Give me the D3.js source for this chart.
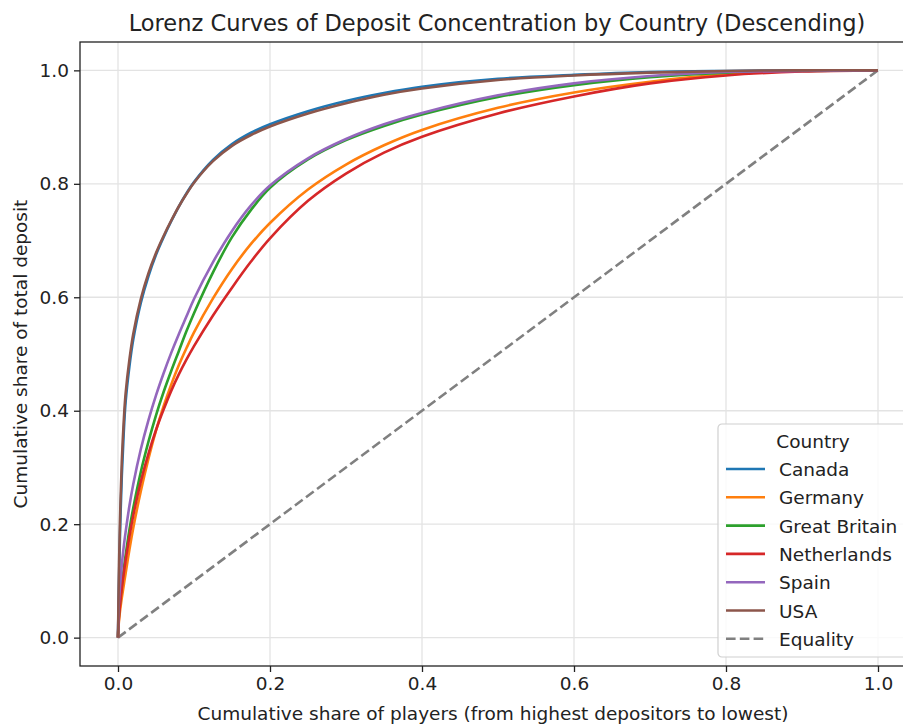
<!DOCTYPE html>
<html>
<head>
<meta charset="utf-8">
<script src="https://cdn.jsdelivr.net/npm/d3@7"></script>
<style>
  body { margin: 0; background: #fff; }
  text { font-family: "DejaVu Sans", sans-serif; fill: #222; }
</style>
</head>
<body>
<div id="chart"></div>
<script>
// cumulative share of players (shared x positions of the readings)
let shares = [0, 0.001, 0.0025, 0.005, 0.0075, 0.01, 0.015, 0.02, 0.03, 0.04, 0.05, 0.06, 0.07, 0.08, 0.09,
    0.1, 0.125, 0.15, 0.175, 0.2, 0.25, 0.3, 0.35, 0.4, 0.5, 0.6, 0.7, 0.8, 0.9, 1.0];

let countries = ["Canada", "Germany", "Great Britain", "Netherlands", "Spain", "USA"];

let canada = [0, 0.08, 0.175, 0.285, 0.36, 0.415, 0.478, 0.525, 0.59, 0.637, 0.675, 0.706, 0.734, 0.76, 0.783,
    0.803, 0.842, 0.87, 0.89, 0.905, 0.928, 0.946, 0.96, 0.971, 0.985, 0.992, 0.997, 0.999, 1.0, 1.0];
let germany = [0, 0.025, 0.045, 0.07, 0.092, 0.113, 0.155, 0.193, 0.258, 0.315, 0.365, 0.408, 0.446, 0.48, 0.51,
    0.538, 0.598, 0.65, 0.694, 0.731, 0.79, 0.834, 0.868, 0.895, 0.934, 0.961, 0.98, 0.993, 0.999, 1.0];
let greatBritain = [0, 0.035, 0.06, 0.092, 0.12, 0.145, 0.19, 0.228, 0.292, 0.345, 0.392, 0.433, 0.47, 0.505, 0.54,
    0.572, 0.644, 0.706, 0.754, 0.793, 0.843, 0.877, 0.902, 0.922, 0.953, 0.974, 0.988, 0.996, 0.999, 1.0];
let netherlands = [0, 0.03, 0.055, 0.087, 0.113, 0.136, 0.178, 0.215, 0.275, 0.324, 0.366, 0.402, 0.435, 0.464, 0.49,
    0.514, 0.568, 0.617, 0.663, 0.704, 0.77, 0.818, 0.855, 0.883, 0.924, 0.954, 0.977, 0.991, 0.998, 1.0];
let spain = [0, 0.058, 0.088, 0.128, 0.16, 0.186, 0.232, 0.27, 0.332, 0.383, 0.427, 0.466, 0.502, 0.535, 0.566,
    0.597, 0.662, 0.717, 0.762, 0.797, 0.845, 0.879, 0.905, 0.925, 0.956, 0.977, 0.99, 0.997, 0.999, 1.0];
let usa = [0, 0.1, 0.2, 0.31, 0.38, 0.43, 0.49, 0.535, 0.597, 0.642, 0.678, 0.708, 0.735, 0.76, 0.782,
    0.802, 0.84, 0.867, 0.886, 0.901, 0.924, 0.942, 0.957, 0.968, 0.983, 0.991, 0.996, 0.999, 1.0, 1.0];

let seriesValues = [canada, germany, greatBritain, netherlands, spain, usa];
let colors = ["#1f77b4", "#ff7f0e", "#2ca02c", "#d62728", "#9467bd", "#8c564b"];
let ticks = [0, 0.2, 0.4, 0.6, 0.8, 1.0];

let width = 903;
let height = 724;
let margin = {left: 80, top: 42, right: 916, bottom: 666};
let fontSize = "18.5px";

let svg = d3.select("#chart")
    .append("svg")
    .attr("width", width)
    .attr("height", height);

let x = d3.scaleLinear().domain([-0.05, 1.05]).range([margin.left, margin.right]);
let y = d3.scaleLinear().domain([-0.05, 1.05]).range([margin.bottom, margin.top]);

// grid
svg.append("g")
    .selectAll("line")
    .data(ticks)
    .enter().append("line")
    .attr("x1", d => x(d)).attr("x2", d => x(d))
    .attr("y1", margin.top).attr("y2", margin.bottom)
    .attr("stroke", "#e3e3e3").attr("stroke-width", 1.3);

svg.append("g")
    .selectAll("line")
    .data(ticks)
    .enter().append("line")
    .attr("y1", d => y(d)).attr("y2", d => y(d))
    .attr("x1", margin.left).attr("x2", margin.right)
    .attr("stroke", "#e3e3e3").attr("stroke-width", 1.3);

// equality line
svg.append("path")
    .datum([[0, 0], [1, 1]])
    .attr("d", d3.line().x(d => x(d[0])).y(d => y(d[1])))
    .attr("fill", "none")
    .attr("stroke", "#808080")
    .attr("stroke-width", 2.6)
    .attr("stroke-dasharray", "9.6,4.2");

// lorenz curves
let line = d3.line()
    .x(d => x(d[0]))
    .y(d => y(d[1]))
    .curve(d3.curveCatmullRom.alpha(0.5));

countries.forEach(function(c, i) {
    svg.append("path")
        .datum(shares.map((s, j) => [s, seriesValues[i][j]]))
        .attr("d", line)
        .attr("fill", "none")
        .attr("stroke", colors[i])
        .attr("stroke-width", 2.6)
        .attr("stroke-linejoin", "round");
});

// axes
let xAxis = svg.append("g")
    .attr("transform", "translate(0," + margin.bottom + ")")
    .call(d3.axisBottom(x).tickValues(ticks).tickFormat(d3.format(".1f")).tickSize(6).tickPadding(5));
let yAxis = svg.append("g")
    .attr("transform", "translate(" + margin.left + ",0)")
    .call(d3.axisLeft(y).tickValues(ticks).tickFormat(d3.format(".1f")).tickSize(6).tickPadding(5));

[xAxis, yAxis].forEach(function(a) {
    a.select(".domain").remove();
    a.selectAll(".tick line").attr("stroke", "#222").attr("stroke-width", 1.3);
    a.selectAll(".tick text").style("font-size", fontSize).style("font-family", "DejaVu Sans").attr("fill", "#222");
});

// spines
svg.append("rect")
    .attr("x", margin.left).attr("y", margin.top)
    .attr("width", margin.right - margin.left)
    .attr("height", margin.bottom - margin.top)
    .attr("fill", "none")
    .attr("stroke", "#222")
    .attr("stroke-width", 1.3);

// title and labels
svg.append("text")
    .attr("x", (margin.left + margin.right) / 2 - 1)
    .attr("y", 31)
    .attr("text-anchor", "middle")
    .style("font-size", "22.5px")
    .text("Lorenz Curves of Deposit Concentration by Country (Descending)");

svg.append("text")
    .attr("x", (margin.left + margin.right) / 2 - 5)
    .attr("y", 720)
    .attr("text-anchor", "middle")
    .style("font-size", fontSize)
    .text("Cumulative share of players (from highest depositors to lowest)");

svg.append("text")
    .attr("transform", "translate(27," + ((margin.top + margin.bottom) / 2) + ") rotate(-90)")
    .attr("text-anchor", "middle")
    .style("font-size", fontSize)
    .text("Cumulative share of total deposit");

// legend
let legendLabels = countries.concat(["Equality"]);
let legendColors = colors.concat(["#808080"]);

let legend = svg.append("g").attr("transform", "translate(718,424)");
legend.append("rect")
    .attr("width", 192).attr("height", 233)
    .attr("rx", 4)
    .attr("fill", "#fff").attr("fill-opacity", 0.8)
    .attr("stroke", "#d0d0d0").attr("stroke-width", 1.2);

legend.append("text")
    .attr("x", 95).attr("y", 24)
    .attr("text-anchor", "middle")
    .style("font-size", fontSize)
    .text("Country");

let legendG = legend.selectAll(".legend")
    .data(legendLabels)
    .enter().append("g")
    .attr("class", "legend")
    .attr("transform", (d, i) => "translate(0," + (45 + i * 28.3) + ")");

legendG.append("line")
    .attr("x1", 8).attr("x2", 47)
    .attr("stroke", (d, i) => legendColors[i])
    .attr("stroke-width", 2.6)
    .attr("stroke-dasharray", (d, i) => d === "Equality" ? "9.6,4.2" : null);

legendG.append("text")
    .attr("x", 61).attr("y", 7)
    .style("font-size", fontSize)
    .text(d => d);
</script>
</body>
</html>
